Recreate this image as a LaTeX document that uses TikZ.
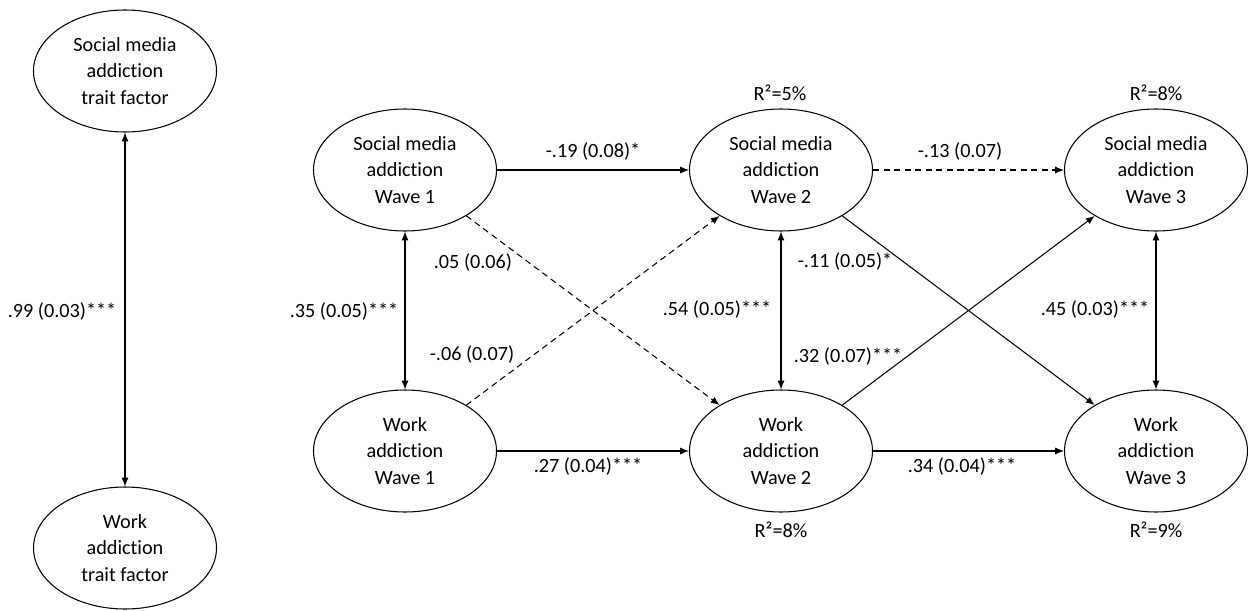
\documentclass[tikz,border=0pt]{standalone}
\usepackage{fontspec}
\setmainfont{Carlito}[Ligatures=NoCommon]
\usepackage{tikz}
\usetikzlibrary{arrows.meta,shapes.geometric}

\begin{document}
\begin{tikzpicture}[every node/.style={font=\fontsize{11.5}{15}\selectfont},
  latent/.style={draw, ellipse, line width=0.6pt, minimum width=3.66cm, minimum height=2.44cm,
    inner sep=0pt, align=center},
  regr/.style={-{Latex[length=5pt,width=4pt]}, line width=0.6pt},
  cov/.style={{Latex[length=5pt,width=4pt]}-{Latex[length=5pt,width=4pt]}, line width=0.6pt},
  ns/.style={dash pattern=on 3.5pt off 2.5pt}]
\useasboundingbox (0,0) rectangle (24.96,12.2);
% ---- trait factors
\node[latent] (smT) at (2.5,10.78) {Social media\\ addiction\\ trait factor};
\node[latent] (waT) at (2.5,1.24) {Work\\ addiction\\ trait factor};
\draw[cov] (smT) -- (waT);
\node (r99) at (1.24,5.96) {.99 (0.03)***};
% ---- waves
\node[latent] (sm1) at (8.1,8.8) {Social media\\ addiction\\ Wave 1};
\node[latent] (sm2) at (15.62,8.8) {Social media\\ addiction\\ Wave 2};
\node[latent] (sm3) at (23.12,8.8) {Social media\\ addiction\\ Wave 3};
\node[latent] (wa1) at (8.1,3.18) {Work\\ addiction\\ Wave 1};
\node[latent] (wa2) at (15.62,3.18) {Work\\ addiction\\ Wave 2};
\node[latent] (wa3) at (23.12,3.18) {Work\\ addiction\\ Wave 3};
% ---- explained variance
\node (rsm2) at (15.6,10.34) {R²=5\%};
\node (rsm3) at (23.12,10.34) {R²=8\%};
\node (rwa2) at (15.62,1.6) {R²=8\%};
\node (rwa3) at (23.12,1.6) {R²=9\%};
% ---- within-wave covariances
\draw[cov] (sm1) -- (wa1);
\draw[cov] (sm2) -- (wa2);
\draw[cov] (sm3) -- (wa3);
\node (r35) at (6.88,5.96) {.35 (0.05)***};
\node (r54) at (14.34,6.0) {.54 (0.05)***};
\node (r45) at (21.9,6.0) {.45 (0.03)***};
% ---- cross-lagged paths
\draw[regr] (sm1) -- (sm2);
\draw[regr, ns] (sm2) -- (sm3);
\draw[regr] (wa1) -- (wa2);
\draw[regr] (wa2) -- (wa3);
\draw[regr, ns] (sm1) -- (wa2);
\draw[regr, ns] (wa1) -- (sm2);
\draw[regr] (sm2) -- (wa3);
\draw[regr] (wa2) -- (sm3);
\node (r19) at (11.86,9.16) {-.19 (0.08)*};
\node (r13) at (19.2,9.16) {-.13 (0.07)};
\node (r27) at (11.76,2.86) {.27 (0.04)***};
\node (r34) at (19.24,2.86) {.34 (0.04)***};
\node (r05) at (9.46,6.94) {.05 (0.06)};
\node (r06) at (9.44,5.1) {-.06 (0.07)};
\node (r11) at (16.9,6.96) {-.11 (0.05)*};
\node (r32) at (16.96,5.06) {.32 (0.07)***};
\end{tikzpicture}
\end{document}
